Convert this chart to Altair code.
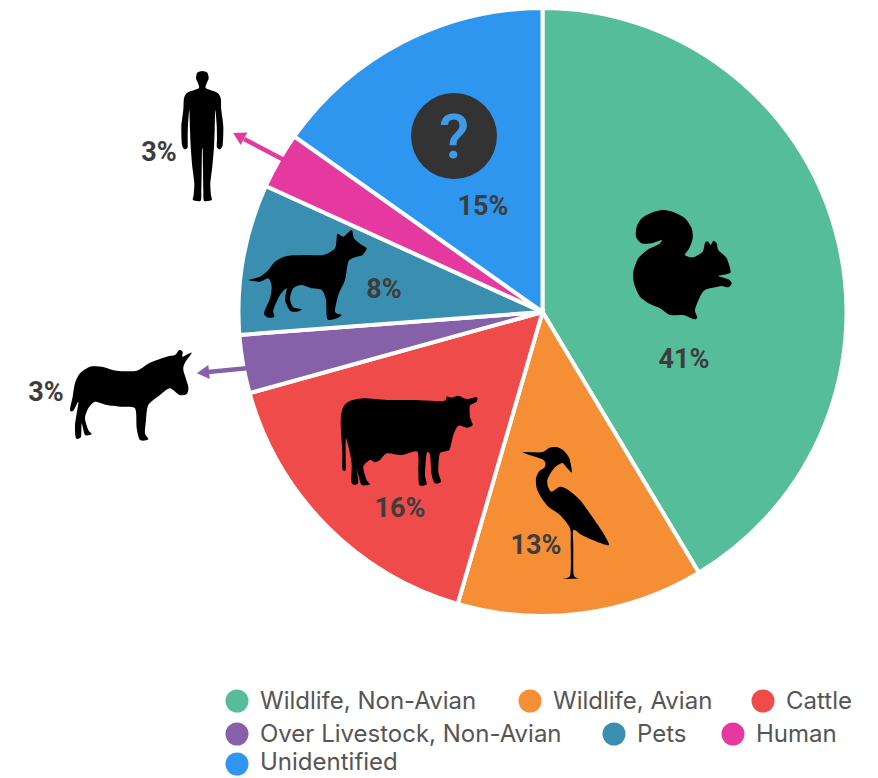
import altair as alt
import pandas as pd

# ---- chart values ----
categories = ["Wildlife, Non-Avian", "Wildlife, Avian", "Cattle", "Over Livestock, Non-Avian", "Pets", "Human", "Unidentified"]
shares = [41.4, 13.1, 16.2, 3.1, 8.0, 3.0, 15.2]
share_labels = ["41%", "13%", "16%", "3%", "8%", "3%", "15%"]
colors = ["#56BD9B", "#F68E36", "#F04B4B", "#8660A9", "#3A8FB0", "#E5399F", "#2E96EE"]

# ---- layout ----
W, H = 862, 770
CX, CY, R = 542.5, 312, 304
label_x = [684, 536, 400, 46, 384, 159, 483]
label_y = [359.5, 545.5, 508.5, 392.5, 289.5, 152.5, 206.5]
legend_x = [237, 530, 763, 237, 614, 733, 237]
legend_y = [701, 701, 701, 734, 734, 734, 764]
legend_text_y = [702, 702, 702, 735, 735, 735, 763]

XS = alt.Scale(domain=[8, 8 + W], nice=False, zero=False)
YS = alt.Scale(domain=[8 + H, 8], nice=False, zero=False)
X = alt.X("x:Q", scale=XS, axis=None)
Y = alt.Y("y:Q", scale=YS, axis=None)
cscale = alt.Scale(domain=categories, range=colors)

def to_path(pts):
    n = len(pts)
    p = [(a / 3, b / 3) for a, b in pts]
    out = [f"M{p[0][0]:.1f},{p[0][1]:.1f}"]
    for i in range(n):
        p0, p1, p2, p3 = p[i - 1], p[i], p[(i + 1) % n], p[(i + 2) % n]
        c1 = (p1[0] + (p2[0] - p0[0]) / 8, p1[1] + (p2[1] - p0[1]) / 8)
        c2 = (p2[0] - (p3[0] - p1[0]) / 8, p2[1] - (p3[1] - p1[1]) / 8)
        out.append(f"C{c1[0]:.1f},{c1[1]:.1f} {c2[0]:.1f},{c2[1]:.1f} {p2[0]:.1f},{p2[1]:.1f}")
    return "".join(out) + "Z"

squirrel = [(125,120),(95,130),(65,130),(48,110),(50,80),(65,55),(95,38),(130,30),(165,38),(195,55),(215,85),(218,115),(208,145),(195,165),(220,172),(248,155),(255,128),(265,125),(272,135),(280,122),(290,130),(295,150),(320,175),(332,215),(322,222),(295,228),(325,238),(335,250),(325,262),(305,258),(285,262),(255,270),(240,290),(225,330),(232,352),(222,358),(190,345),(150,345),(120,325),(90,312),(60,290),(42,250),(40,215),(55,175),(85,148),(118,132)]
heron = [(38,52),(95,52),(118,38),(140,36),(160,46),(178,70),(186,112),(172,100),(158,84),(148,88),(135,97),(122,114),(112,135),(114,155),(125,170),(150,155),(175,165),(210,195),(250,250),(280,295),(297,330),(260,320),(215,300),(190,285),(190,330),(191,420),(208,430),(145,432),(180,422),(182,330),(180,280),(150,240),(115,215),(95,190),(80,160),(78,130),(88,108),(103,98),(106,84),(95,72)]
cow = [(55,50),(100,40),(170,45),(250,45),(340,48),(350,35),(365,38),(385,32),(410,42),(440,36),(440,50),(420,62),(420,95),(428,120),(410,128),(385,122),(370,150),(358,195),(330,205),(325,260),(333,290),(315,295),(305,270),(300,210),(290,205),(285,270),(290,298),(268,300),(265,260),(262,200),(215,210),(170,205),(150,225),(135,232),(120,225),(100,245),(110,285),(120,298),(95,300),(85,270),(80,255),(85,295),(65,295),(65,240),(60,205),(48,160),(47,215),(47,255),(37,252),(37,200),(32,110),(38,70)]
donkey = [(180,100),(210,80),(245,80),(290,92),(350,92),(390,68),(440,50),(465,45),(478,30),(488,35),(488,50),(515,38),(495,68),(490,90),(505,140),(500,162),(478,165),(450,145),(420,165),(385,195),(378,240),(375,280),(385,298),(360,300),(350,265),(345,205),(300,200),(260,195),(225,185),(205,205),(195,235),(205,270),(215,282),(195,285),(185,250),(183,290),(168,295),(165,255),(172,210),(175,185),(160,212),(150,210),(158,170),(165,130)]
dog = [(25,180),(60,170),(85,150),(105,125),(140,108),(200,105),(250,105),(285,85),(292,42),(310,50),(335,30),(342,55),(365,75),(380,85),(368,105),(345,112),(325,125),(315,180),(295,225),(285,275),(305,285),(290,295),(262,297),(258,240),(245,210),(215,205),(185,195),(160,205),(150,235),(160,262),(185,268),(170,275),(150,272),(135,240),(140,205),(120,225),(100,270),(103,290),(85,293),(72,280),(90,235),(95,200),(85,175),(60,185)]
human_half = [(232,38),(236,55),(230,70),(228,85),(262,98),(272,115),(274,150),(280,200),(278,255),(270,268),(261,262),(261,235),(260,195),(256,150),(254,210),(252,260),(247,320),(241,370),(243,405),(245,420),(222,422),(220,390),(219,330),(218,270)]
human = [(217,33)] + human_half + [(434 - a, b) for a, b in reversed(human_half)]

# (outline, left of crop, top of crop)
icons = [(squirrel, 620, 200), (heron, 510, 435), (cow, 330, 385), (donkey, 20, 340), (dog, 240, 220), (human, 130, 60)]

# ---- arcs ----
pie_df = pd.DataFrame({"cat": categories, "share": shares, "idx": range(len(shares))})
pie = alt.Chart(pie_df).mark_arc(radius=R, stroke="white", strokeWidth=4).encode(
    theta=alt.Theta("share:Q", stack=True),
    order=alt.Order("idx:Q"),
    color=alt.Color("cat:N", scale=cscale, legend=None),
    x=alt.value(CX - 8),
    y=alt.value(CY - 8),
)

# ---- question badge ----
badge = alt.Chart(pd.DataFrame({"x": [454], "y": [136]})).mark_point(
    shape="circle", filled=True, opacity=1, color="#333333", size=7396
).encode(x=X, y=Y)
qmark = alt.Chart(pd.DataFrame({"x": [454], "y": [139], "t": ["?"]})).mark_text(
    font="Roboto", fontWeight=500, fontSize=62, color="#3F9BE8", baseline="middle", align="center"
).encode(x=X, y=Y, text="t:N")

# ---- icons ----
icon_layers = [
    alt.Chart(pd.DataFrame({"x": [ox], "y": [oy]})).mark_point(
        shape=to_path(pts), filled=True, opacity=1, color="black", size=4
    ).encode(x=X, y=Y)
    for pts, ox, oy in icons
]

# ---- arrows ----
arrow_df = pd.DataFrame({
    "cat": ["Human", "Over Livestock, Non-Avian"],
    "x": [284, 249], "y": [160, 368], "x2": [244, 208], "y2": [139, 372],
    "hx": [240.4, 205], "hy": [136.9, 372.5], "a": [298, 264],
})
shafts = alt.Chart(arrow_df).mark_rule(strokeWidth=4.5).encode(
    x=X, y=Y, x2="x2:Q", y2="y2:Q", color=alt.Color("cat:N", scale=cscale, legend=None)
)
heads = alt.Chart(arrow_df).mark_point(shape="triangle", filled=True, opacity=1, size=200).encode(
    x=alt.X("hx:Q", scale=XS, axis=None),
    y=alt.Y("hy:Q", scale=YS, axis=None),
    angle=alt.Angle("a:Q", scale=None),
    color=alt.Color("cat:N", scale=cscale, legend=None),
)

# ---- percentage labels ----
labels = alt.Chart(pd.DataFrame({"x": label_x, "y": label_y, "t": share_labels})).mark_text(
    font="Roboto", fontWeight="bold", fontSize=27, color="#3D3D3D", baseline="middle", align="center"
).encode(x=X, y=Y, text="t:N")

# ---- flowing legend ----
leg_df = pd.DataFrame({"cat": categories, "x": legend_x, "y": legend_y, "ty": legend_text_y})
leg_df["tx"] = leg_df["x"] + 23
leg_sym = alt.Chart(leg_df).mark_point(shape="circle", filled=True, opacity=1, size=529).encode(
    x=X, y=Y, color=alt.Color("cat:N", scale=cscale, legend=None)
)
leg_txt = alt.Chart(leg_df).mark_text(
    font="Inter", fontSize=24, color="#555555", align="left", baseline="middle"
).encode(x=alt.X("tx:Q", scale=XS, axis=None), y=alt.Y("ty:Q", scale=YS, axis=None), text="cat:N")

chart = alt.layer(pie, badge, qmark, *icon_layers, shafts, heads, labels, leg_sym, leg_txt).properties(
    width=W, height=H, padding=0, autosize=alt.AutoSizeParams(type="none"), background="white"
).configure_view(stroke=None)

chart.save("out.html", embed_options={"renderer": "svg", "actions": False})
